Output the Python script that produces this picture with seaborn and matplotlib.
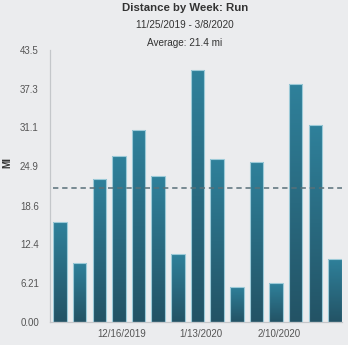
import numpy as np
import matplotlib
matplotlib.use("Agg")
import matplotlib.pyplot as plt
from matplotlib.colors import LinearSegmentedColormap
from matplotlib.transforms import ScaledTranslation
import seaborn as sns

weeks = ["11/25/2019", "12/2/2019", "12/9/2019", "12/16/2019", "12/23/2019",
         "12/30/2019", "1/6/2020", "1/13/2020", "1/20/2020", "1/27/2020",
         "2/3/2020", "2/10/2020", "2/17/2020", "2/24/2020", "3/2/2020"]
miles = [16.0, 9.5, 22.9, 26.5, 30.6, 23.3, 10.8, 40.2, 26.0, 5.6,
         25.5, 6.2, 38.1, 31.5, 10.1]
average = 21.4
xtick_labels = ["12/16/2019", "1/13/2020", "2/10/2020"]
ytick_values = [0.0, 6.21, 12.4, 18.6, 24.9, 31.1, 37.3, 43.5]
ytick_labels = ["0.00", "6.21", "12.4", "18.6", "24.9", "31.1", "37.3", "43.5"]
title = "Distance by Week: Run"
subtitle = "11/25/2019 - 3/8/2020"
avg_text = "Average: 21.4 mi"

bg = "#ebecee"
sns.set_theme(style="white")
plt.rcParams["font.family"] = ["Liberation Sans", "DejaVu Sans"]

fig = plt.figure(figsize=(3.48, 3.45), dpi=100, facecolor=bg)
ax = fig.add_axes([50 / 348, 1 - 322 / 345, 292 / 348, (322 - 49.7) / 345])
ax.set_facecolor(bg)

sns.barplot(x=weeks, y=miles, color="#2b6c82", width=0.69, ax=ax,
            edgecolor="#9ccad8", linewidth=0.8, saturation=1)

cmap = LinearSegmentedColormap.from_list("g", ["#235365", "#2f819b"])
grad = np.linspace(0, 1, 256).reshape(-1, 1)
for p in list(ax.patches):
    x0, y0 = p.get_x(), p.get_y()
    w, h = p.get_width(), p.get_height()
    p.set_facecolor("none")
    p.set_zorder(3)
    im = ax.imshow(grad, extent=[x0, x0 + w, y0, y0 + h], origin="lower",
                   aspect="auto", cmap=cmap, zorder=2.5, interpolation="bilinear")
    im.set_clip_path(p)

first = ax.patches[0]
ax.set_xlim(-0.51, 14.36)
ax.set_ylim(0, 43.5)
ax.hlines(average, first.get_x(), 14.36, colors="#587079", linewidth=1.1,
          linestyles=(0, (3.5, 2.5)), zorder=4)

ax.set_xticks([weeks.index(t) for t in xtick_labels])
ax.set_xticklabels(xtick_labels)
ax.set_yticks(ytick_values)
ax.set_yticklabels(ytick_labels)
ax.tick_params(axis="both", length=0, labelsize=7, colors="#555555")
ax.tick_params(axis="y", pad=8)
ax.tick_params(axis="x", pad=5)
shift = ScaledTranslation(3 / 100, 0, fig.dpi_scale_trans)
for lbl in ax.get_xticklabels():
    lbl.set_transform(lbl.get_transform() + shift)
ax.set_xlabel("")
ax.set_ylabel("")

for s in ["top", "right"]:
    ax.spines[s].set_visible(False)
for s in ["left", "bottom"]:
    ax.spines[s].set_color("#c4c7ca")
    ax.spines[s].set_linewidth(0.9)

fig.text(185 / 348, 1 - 8 / 345, title, ha="center", va="center",
         fontsize=8.2, fontweight="bold", color="#333333")
fig.text(185 / 348, 1 - 25 / 345, subtitle, ha="center", va="center",
         fontsize=7.2, color="#333333")
fig.text(185 / 348, 1 - 43 / 345, avg_text, ha="center", va="center",
         fontsize=7.2, color="#333333")
fig.text(7 / 348, 1 - 163 / 345, "MI", ha="center", va="center",
         rotation=90, fontsize=7.2, fontweight="bold", color="#333333")

fig.savefig("out.png", dpi=100, facecolor=bg)
